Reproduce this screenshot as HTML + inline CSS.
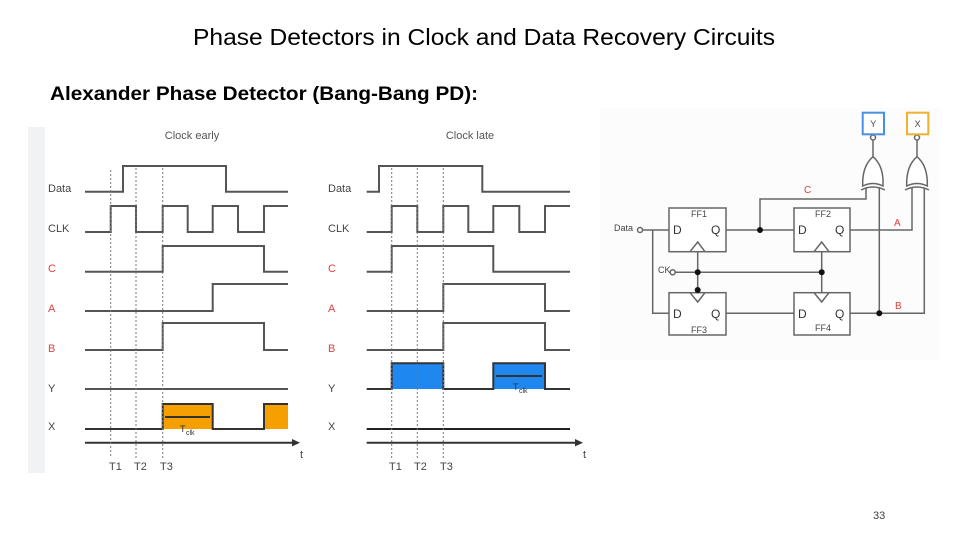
<!DOCTYPE html>
<html><head><meta charset="utf-8"><style>
html,body{margin:0;padding:0;background:#fff;}
body{width:960px;height:540px;overflow:hidden;position:relative;font-family:"Liberation Sans",sans-serif;}
</style></head><body>
<svg width="960" height="540" viewBox="0 0 960 540" xmlns="http://www.w3.org/2000/svg" font-family="Liberation Sans, sans-serif">
<text x="484" y="45" font-size="23" text-anchor="middle" fill="#000" textLength="582" lengthAdjust="spacingAndGlyphs">Phase Detectors in Clock and Data Recovery Circuits</text>
<text x="50" y="100" font-size="19" font-weight="bold" fill="#000" textLength="428" lengthAdjust="spacingAndGlyphs">Alexander Phase Detector (Bang-Bang PD):</text>
<text x="873" y="519" font-size="11" fill="#444">33</text>

<rect x="28" y="127" width="17" height="346" fill="#f1f2f4"/>
<rect x="600" y="108" width="340" height="252" fill="#fcfcfc"/>

<g font-size="11" fill="#555">
<text x="192" y="139" text-anchor="middle">Clock early</text>
<text x="470" y="139" text-anchor="middle">Clock late</text>
</g>
<g font-size="11" fill="#444">
<text x="48" y="192">Data</text><text x="48" y="232">CLK</text>
<text x="48" y="272" fill="#e04040">C</text><text x="48" y="312" fill="#e04040">A</text>
<text x="48" y="352" fill="#e04040">B</text><text x="48" y="392">Y</text><text x="48" y="430">X</text>
<text x="328" y="192">Data</text><text x="328" y="232">CLK</text>
<text x="328" y="272" fill="#e04040">C</text><text x="328" y="312" fill="#e04040">A</text>
<text x="328" y="352" fill="#e04040">B</text><text x="328" y="392">Y</text><text x="328" y="430">X</text>
<text x="109" y="470">T1</text><text x="134" y="470">T2</text><text x="160" y="470">T3</text>
<text x="389" y="470">T1</text><text x="414" y="470">T2</text><text x="440" y="470">T3</text>
<text x="300" y="458">t</text><text x="583" y="458">t</text>
</g>

<rect x="162.7" y="404" width="50" height="25" fill="#f5a000"/>
<rect x="264" y="404" width="24" height="25" fill="#f5a000"/>
<rect x="391.7" y="363.3" width="51.6" height="25.7" fill="#1e88f0"/>
<rect x="493.3" y="363.3" width="51.7" height="25.7" fill="#1e88f0"/>

<g fill="none" stroke="#555" stroke-width="2">
<polyline points="85,191.7 123,191.7 123,166 226,166 226,191.7 288,191.7"/>
<polyline points="85,232 110.7,232 110.7,206 136,206 136,232 162.7,232 162.7,206 187.7,206 187.7,232 212.7,232 212.7,206 238,206 238,232 264,232 264,206 288,206"/>
<polyline points="85,271.7 162.7,271.7 162.7,246 264,246 264,271.7 288,271.7"/>
<polyline points="85,311 212.7,311 212.7,284 288,284"/>
<polyline points="85,350 162.7,350 162.7,323 264,323 264,350 288,350"/>
<polyline points="85,389 288,389"/>
<polyline points="85,429 162.7,429 162.7,404 212.7,404 212.7,429 264,429 264,404 288,404" stroke="#333"/>
<line x1="85" y1="442.7" x2="294" y2="442.7" stroke="#333"/>

<polyline points="366.7,191.7 379,191.7 379,166 482.3,166 482.3,191.7 570,191.7"/>
<polyline points="366.7,232 391.7,232 391.7,206 417.3,206 417.3,232 443.3,232 443.3,206 468.3,206 468.3,232 493.3,232 493.3,206 519.3,206 519.3,232 545,232 545,206 570,206"/>
<polyline points="366.7,271.7 391.7,271.7 391.7,246 493.3,246 493.3,271.7 570,271.7"/>
<polyline points="366.7,311 443.3,311 443.3,284 545,284 545,311 570,311"/>
<polyline points="366.7,350 443.3,350 443.3,323 545,323 545,350 570,350"/>
<polyline points="366.7,389 391.7,389 391.7,363.3 443.3,363.3 443.3,389 493.3,389 493.3,363.3 545,363.3 545,389 570,389" stroke="#333"/>
<line x1="366.7" y1="429" x2="570" y2="429" stroke="#222"/>
<line x1="366.7" y1="442.7" x2="577" y2="442.7" stroke="#333"/>
</g>
<polygon points="300,442.7 292,439 292,446.4" fill="#333"/>
<polygon points="583,442.7 575,439 575,446.4" fill="#333"/>
<g stroke="#333" stroke-width="2">
<line x1="165" y1="417" x2="210" y2="417"/><line x1="496" y1="376" x2="542" y2="376"/>
</g>
<text x="180" y="432" font-size="9" fill="#333">T</text><text x="186" y="435" font-size="7" fill="#333">clk</text>
<text x="513" y="390" font-size="9" fill="#333">T</text><text x="519" y="393" font-size="7" fill="#333">clk</text>

<g stroke="#777" stroke-width="1" stroke-dasharray="2,2" fill="none">
<line x1="110.7" y1="170" x2="110.7" y2="458"/><line x1="136" y1="168" x2="136" y2="458"/><line x1="162.7" y1="168" x2="162.7" y2="458"/>
<line x1="391.7" y1="168" x2="391.7" y2="458"/><line x1="417.3" y1="168" x2="417.3" y2="458"/><line x1="443.3" y1="168" x2="443.3" y2="458"/>
</g>

<g stroke="#666" stroke-width="1.5" fill="none">
<rect x="669" y="208" width="57" height="43.7" fill="#fff"/>
<rect x="794" y="208" width="56" height="43.7" fill="#fff"/>
<rect x="669" y="292.7" width="57" height="42.3" fill="#fff"/>
<rect x="794" y="292.7" width="56" height="42.3" fill="#fff"/>
<polyline points="690,251.7 697.7,242 705,251.7"/>
<polyline points="814,251.7 821.7,242 829,251.7"/>
<polyline points="690,292.7 697.7,302 705,292.7"/>
<polyline points="814,292.7 821.7,302 829,292.7"/>
<polyline points="643,230 669,230"/>
<polyline points="652.7,230 652.7,313.3 669,313.3"/>
<polyline points="726,230 794,230"/>
<polyline points="760,230 760,199 866,199 866,188"/>
<polyline points="726,313.3 794,313.3"/>
<polyline points="850,230 912,230 912,188"/>
<polyline points="850,313.3 924.3,313.3 924.3,188"/>
<polyline points="879.3,313.3 879.3,188"/>
<polyline points="675.5,272.3 821.7,272.3"/>
<line x1="697.7" y1="251.7" x2="697.7" y2="292.7"/>
<line x1="821.7" y1="251.7" x2="821.7" y2="292.7"/>
<circle cx="640" cy="230" r="2.5" fill="#fff"/>
<circle cx="672.7" cy="272.3" r="2.5" fill="#fff"/>
<path d="M862.7,186 Q873,181 883,186 Q884,166 873,156.7 Q862,166 862.7,186 Z" fill="#fff"/>
<path d="M861,190 Q873,184 885,190"/>
<path d="M906.7,186 Q917,181 927.3,186 Q928,166 917,156.7 Q906,166 906.7,186 Z" fill="#fff"/>
<path d="M905,190 Q917,184 929,190"/>
<line x1="873" y1="140" x2="873" y2="156.7"/>
<line x1="917" y1="140" x2="917" y2="156.7"/>
<circle cx="873" cy="137.5" r="2.5" fill="#fff"/>
<circle cx="917" cy="137.5" r="2.5" fill="#fff"/>
</g>
<g fill="#111">
<circle cx="760" cy="230" r="3"/><circle cx="697.7" cy="272.3" r="3"/><circle cx="821.7" cy="272.3" r="3"/>
<circle cx="697.7" cy="290" r="3"/><circle cx="879.3" cy="313.3" r="3"/>
</g>
<rect x="862.7" y="112.7" width="21.3" height="21.6" fill="#fff" stroke="#4a90e2" stroke-width="2"/>
<rect x="907" y="112.7" width="21.3" height="21.6" fill="#fff" stroke="#f0b030" stroke-width="2"/>
<g font-size="9" fill="#444">
<text x="873.3" y="127" text-anchor="middle">Y</text><text x="917.6" y="127" text-anchor="middle">X</text>
<text x="614" y="231">Data</text><text x="658" y="273">CK</text>
<text x="691" y="217">FF1</text><text x="815" y="217">FF2</text>
<text x="691" y="333">FF3</text><text x="815" y="331">FF4</text>
</g>
<g font-size="12" fill="#333">
<text x="673" y="234">D</text><text x="711" y="234">Q</text>
<text x="798" y="234">D</text><text x="835" y="234">Q</text>
<text x="673" y="318">D</text><text x="711" y="318">Q</text>
<text x="798" y="318">D</text><text x="835" y="318">Q</text>
</g>
<g font-size="10" fill="#e04040">
<text x="804" y="193">C</text><text x="894" y="226">A</text><text x="895" y="309">B</text>
</g>
</svg>
</body></html>
